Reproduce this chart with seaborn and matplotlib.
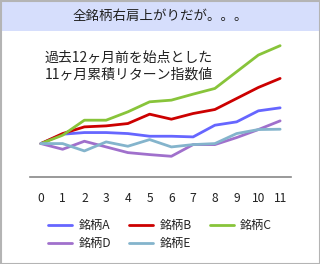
import matplotlib
matplotlib.use("Agg")
import matplotlib.pyplot as plt
import seaborn as sns
import pandas as pd
from matplotlib.patches import Rectangle
from matplotlib.lines import Line2D

months = list(range(12))
stock_a = [100.0, 102.8, 103.3, 103.3, 103.0, 102.2, 102.2, 102.0, 105.5, 106.5, 109.8, 110.7]
stock_b = [100.0, 103.0, 105.0, 105.3, 106.0, 108.8, 107.3, 109.0, 110.2, 113.5, 116.8, 119.5]
stock_c = [100.0, 102.5, 107.0, 107.0, 109.5, 112.5, 113.0, 114.8, 116.5, 121.5, 126.5, 129.3]
stock_d = [100.0, 98.3, 100.7, 99.0, 97.3, 96.7, 96.2, 99.7, 99.7, 101.8, 104.2, 106.8]
stock_e = [100.0, 100.0, 97.8, 100.5, 99.2, 101.2, 99.0, 99.7, 100.0, 103.0, 104.2, 104.3]
names = ["銘柄A", "銘柄B", "銘柄C", "銘柄D", "銘柄E"]
colors = ["#6666ff", "#cc0000", "#88c43a", "#a070cc", "#84b4cc"]
title = "全銘柄右肩上がりだが。。。"
note = "過去12ヶ月前を始点とした\n11ヶ月累積リターン指数値"

rows = []
for n, vals in zip(names, [stock_a, stock_b, stock_c, stock_d, stock_e]):
    for m, v in zip(months, vals):
        rows.append({"month": m, "value": v, "stock": n})
df = pd.DataFrame(rows)

sns.set_theme(style="white")
plt.rcParams["font.family"] = ["Noto Sans CJK JP", "DejaVu Sans"]

fig = plt.figure(figsize=(3.2, 2.64), dpi=100)
W, H = 320, 264
ax = fig.add_axes([30 / W, (H - 177) / H, 261 / W, 137 / H])
sns.lineplot(data=df, x="month", y="value", hue="stock", hue_order=names,
             palette=colors, linewidth=2, ax=ax, legend=False)
ax.set_xlim(-0.5, 11.5)
ax.set_ylim(90, 131)
ax.set_xticks(months)
ax.set_xticklabels([str(m) for m in months], fontsize=8.7, color="#222222")
ax.set_yticks([])
ax.set_xlabel("")
ax.set_ylabel("")
for s in ["top", "left", "right"]:
    ax.spines[s].set_visible(False)
ax.spines["bottom"].set_color("#888888")
ax.spines["bottom"].set_linewidth(1.2)
ax.tick_params(axis="x", length=0, pad=11)
ax.patch.set_alpha(0)

fig.text(45 / W, 1 - 66 / H, note, fontsize=10, va="center", ha="left",
         color="#222222", linespacing=1.25)

# title band and border
fig.patches.append(Rectangle((0, 1 - 31 / H), 1, 31 / H, transform=fig.transFigure,
                             facecolor="#d6defc", edgecolor="none", zorder=0))
fig.patches.append(Rectangle((0.5 / W, 0.5 / H), 1 - 1 / W, 1 - 1 / H, transform=fig.transFigure,
                             facecolor="none", edgecolor="#b4b4b4", linewidth=1.5, zorder=5))
fig.text(0.5, 1 - 16 / H, title, ha="center", va="center", fontsize=9.7, color="#222222")

handles = [Line2D([0], [0], color=c, lw=2) for c in colors]
order = [0, 3, 1, 4, 2]
fig.legend([handles[i] for i in order], [names[i] for i in order], loc="center",
           bbox_to_anchor=(0.5, 1 - 234.5 / H), ncol=3,
           frameon=False, fontsize=8.7, handlelength=2.0, handletextpad=0.5,
           columnspacing=1.5, labelspacing=0.45)

fig.savefig("out.png", dpi=100)
